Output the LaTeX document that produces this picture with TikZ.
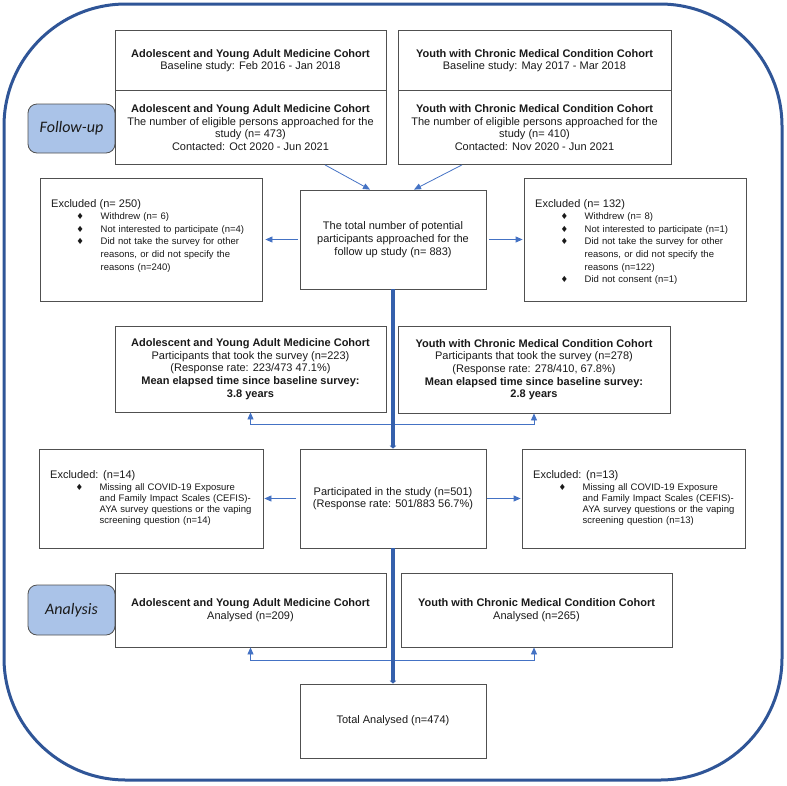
\documentclass[tikz,border=0pt]{standalone}
\usepackage{fontspec}
\setmainfont{Liberation Sans}
\newfontfamily\calib{Carlito}
\newfontfamily\dejavu{DejaVu Sans}
\usetikzlibrary{arrows.meta,calc}
\definecolor{boxline}{HTML}{505050}
\definecolor{arrowblue}{HTML}{4472C4}
\definecolor{darkblue}{HTML}{2F5597}
\definecolor{thickblue}{HTML}{3560AC}
\definecolor{labelfill}{HTML}{AAC3E8}
\definecolor{txt}{HTML}{1A1A1A}
\newcommand\bit{\hspace*{25.3pt}\makebox[24.2pt][l]{\raisebox{0.3pt}{\dejavu\fontsize{8.5}{8.5}\selectfont ♦}}}
\newcommand\bcont{\hspace*{49.5pt}}
\begin{document}
\begin{tikzpicture}[x=1pt,y=-1pt,
  box/.style={draw=boxline, line width=0.8pt, fill=white, inner sep=0pt, align=center,
    text=txt, font=\fontsize{11}{12.65}\selectfont},
  lab/.style={draw=boxline, line width=0.8pt, fill=labelfill, rounded corners=9pt,
    inner sep=0pt, text=txt, font=\calib\itshape\fontsize{16}{18}\selectfont},
  listtxt/.style={inner sep=0pt, anchor=north west, align=left, text=txt},
  thinarrow/.style={draw=arrowblue, line width=0.8pt, -{Triangle[length=7pt,width=6pt]}},
  thickarrow/.style={draw=thickblue, line width=4pt, -{Triangle[length=3pt,width=6.5pt]}}
]
\useasboundingbox (0,0) rectangle (787,785);
\draw[darkblue, line width=3pt, rounded corners=122pt] (4,4) rectangle (782,780);

% labels
\node[lab, minimum width=87pt, minimum height=49pt] (fup) at (71.5,128.5) {Follow-up};
\node[lab, minimum width=87pt, minimum height=50pt] (ana) at (71.5,610) {Analysis};

% top boxes
\node[box, minimum width=271pt, minimum height=61pt] (aya1) at (250.5,60.5)
  {\textbf{Adolescent and Young Adult Medicine Cohort}\\Baseline study: Feb 2016 - Jan 2018};
\node[box, minimum width=271pt, minimum height=74pt] (aya2) at (250.5,127.5)
  {\textbf{Adolescent and Young Adult Medicine Cohort}\\The number of eligible persons approached for the\\study (n= 473)\\Contacted: Oct 2020 - Jun 2021};
\node[box, minimum width=273pt, minimum height=61pt] (ycmc1) at (534.5,60.5)
  {\textbf{Youth with Chronic Medical Condition Cohort}\\Baseline study: May 2017 - Mar 2018};
\node[box, minimum width=273pt, minimum height=74pt] (ycmc2) at (534.5,127.5)
  {\textbf{Youth with Chronic Medical Condition Cohort}\\The number of eligible persons approached for the\\study (n= 410)\\Contacted: Nov 2020 - Jun 2021};

% centre box
\node[box, minimum width=186pt, minimum height=99pt] (total) at (393,239.5)
  {The total number of potential\\participants approached for the\\follow up study (n= 883)};

% excluded 1
\node[box, minimum width=222pt, minimum height=123pt] (ex1) at (151,239.5) {};
\node[listtxt, text width=208pt, font=\fontsize{9.5}{12.6}\selectfont] (ex1t) at (51,199)
  {{\fontsize{11}{12.6}\selectfont Excluded (n= 250)}\\
   \bit Withdrew (n= 6)\\
   \bit Not interested to participate (n=4)\\
   \bit Did not take the survey for other\\
   \bcont reasons, or did not specify the\\
   \bcont reasons (n=240)};
\node[box, minimum width=222pt, minimum height=123pt] (ex1r) at (635,239.5) {};
\node[listtxt, text width=208pt, font=\fontsize{9.5}{12.6}\selectfont] (ex1rt) at (535,199)
  {{\fontsize{11}{12.6}\selectfont Excluded (n= 132)}\\
   \bit Withdrew (n= 8)\\
   \bit Not interested to participate (n=1)\\
   \bit Did not take the survey for other\\
   \bcont reasons, or did not specify the\\
   \bcont reasons (n=122)\\
   \bit Did not consent (n=1)};

% participants boxes
\node[box, minimum width=271pt, minimum height=86pt] (aya3) at (250.5,369)
  {\textbf{Adolescent and Young Adult Medicine Cohort}\\Participants that took the survey (n=223)\\(Response rate: 223/473 47.1\%)\\\textbf{Mean elapsed time since baseline survey:}\\\textbf{3.8 years}};
\node[box, minimum width=272pt, minimum height=87pt] (ycmc3) at (534,369.5)
  {\textbf{Youth with Chronic Medical Condition Cohort}\\Participants that took the survey (n=278)\\(Response rate: 278/410, 67.8\%)\\\textbf{Mean elapsed time since baseline survey:}\\\textbf{2.8 years}};

% participated
\node[box, minimum width=186pt, minimum height=99pt] (part) at (393,498.5)
  {Participated in the study (n=501)\\(Response rate: 501/883 56.7\%)};

% excluded 2
\node[box, minimum width=224pt, minimum height=99pt] (ex2) at (151,498.5) {};
\node[listtxt, text width=208pt, font=\fontsize{9.5}{11}\selectfont] (ex2t) at (50,470)
  {{\fontsize{11}{12.6}\selectfont Excluded: (n=14)}\\[1.7pt]
   \bit Missing all COVID-19 Exposure\\
   \bcont and Family Impact Scales (CEFIS)-\\
   \bcont AYA survey questions or the vaping\\
   \bcont screening question (n=14)};
\node[box, minimum width=223pt, minimum height=99pt] (ex2r) at (633.5,498.5) {};
\node[listtxt, text width=208pt, font=\fontsize{9.5}{11}\selectfont] (ex2rt) at (533,470)
  {{\fontsize{11}{12.6}\selectfont Excluded: (n=13)}\\[1.7pt]
   \bit Missing all COVID-19 Exposure\\
   \bcont and Family Impact Scales (CEFIS)-\\
   \bcont AYA survey questions or the vaping\\
   \bcont screening question (n=13)};

% analysis boxes
\node[box, minimum width=271pt, minimum height=74pt] (aya4) at (250.5,610)
  {\textbf{Adolescent and Young Adult Medicine Cohort}\\Analysed (n=209)};
\node[box, minimum width=271pt, minimum height=74pt] (ycmc4) at (536.5,610)
  {\textbf{Youth with Chronic Medical Condition Cohort}\\Analysed (n=265)};

% total
\node[box, minimum width=186pt, minimum height=74pt] (tot) at (393,721)
  {Total Analysed (n=474)};

% connectors
\draw[thinarrow] ($(aya2.south)+(74.5,0)$) -- ($(total.north)+(-23,0)$);
\draw[thinarrow] ($(ycmc2.south)+(-72.5,0)$) -- ($(total.north)+(21,0)$);
\draw[thinarrow, shorten <=2pt, shorten >=3pt] (total.west) -- (ex1.east);
\draw[thinarrow, shorten <=3pt, shorten >=1pt] (total.east) -- (ex1r.west);
\draw[thinarrow, shorten <=4pt, shorten >=1pt] (part.west) -- (ex2.east);
\draw[thinarrow, shorten <=1pt, shorten >=1pt] (part.east) -- (ex2r.west);

\coordinate (br1) at (393,424);
\coordinate (br2) at (393,660);
\draw[thinarrow] (br1) -| (aya3.south);
\draw[thinarrow] (br1) -| (ycmc3.south);
\draw[thinarrow] (br2) -| (aya4.south);
\draw[thinarrow] (br2) -| ($(ycmc4.south)+(-2.5,0)$);

\draw[thickarrow] (total.south) -- (part.north);
\draw[thickarrow] (part.south) -- (tot.north);
\end{tikzpicture}
\end{document}
